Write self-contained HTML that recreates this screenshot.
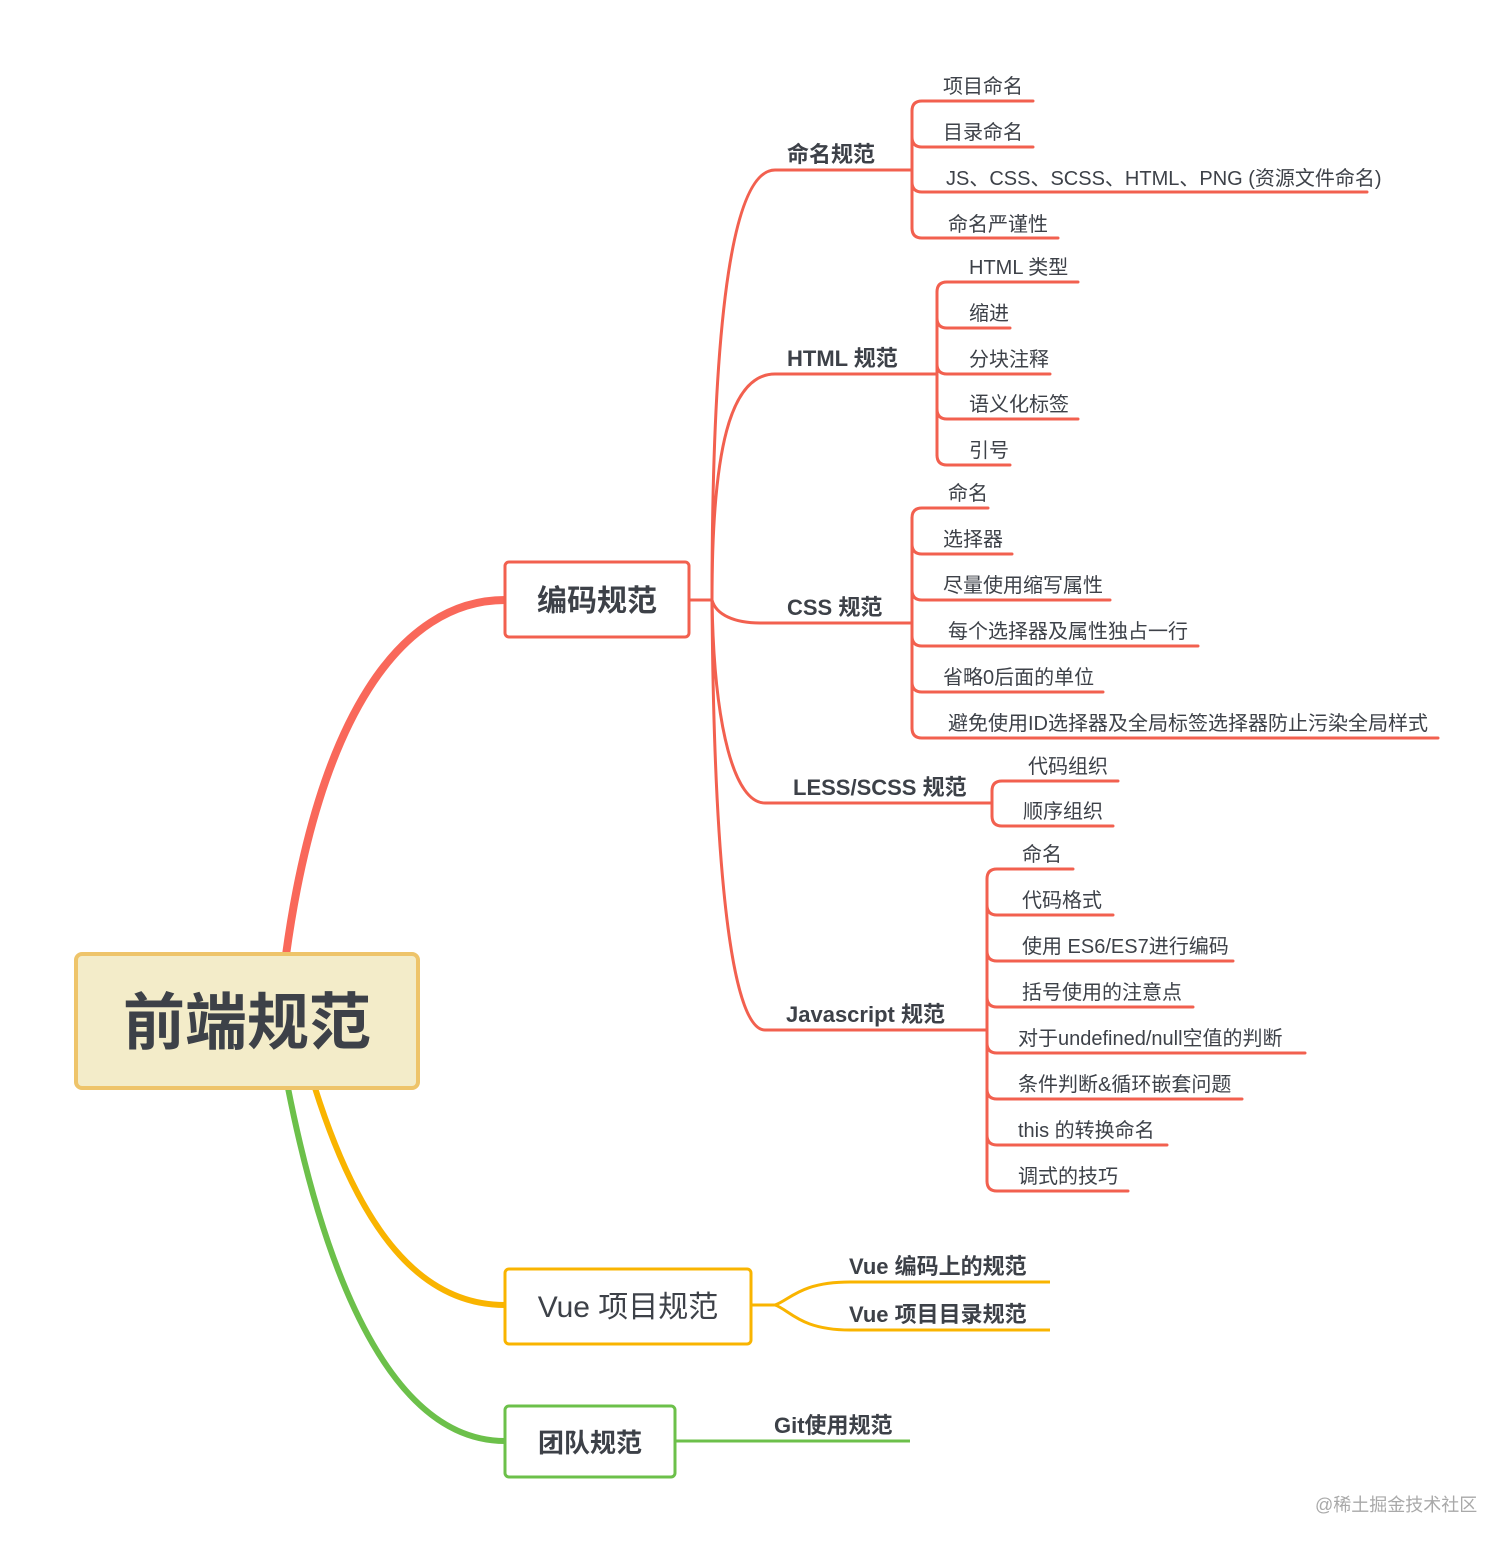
<!DOCTYPE html>
<html><head><meta charset="utf-8"><style>
html,body{margin:0;padding:0;background:#fff;}
svg{display:block}
text{font-family:"Liberation Sans","Noto Sans CJK SC",sans-serif;fill:#3d4148}
.l{font-size:20px}
.b{font-size:22px;font-weight:bold}
.r{fill:none;stroke:#f2604f;stroke-width:3;stroke-linecap:round}
</style></head><body>
<svg width="1512" height="1552" viewBox="0 0 1512 1552" xmlns="http://www.w3.org/2000/svg">
<!-- root curves -->
<path d="M286,955 C318,720 400,600 505,600" fill="none" stroke="#f9685a" stroke-width="8"/>
<path d="M315,1088 C360,1230 420,1305 505,1305" fill="none" stroke="#f9b400" stroke-width="6"/>
<path d="M288,1088 C330,1300 400,1441 505,1441" fill="none" stroke="#6cc04a" stroke-width="6"/>

<!-- root box -->
<rect x="76" y="954" width="342" height="134" rx="6" fill="#f3ecc9" stroke="#eec46a" stroke-width="4"/>
<text x="247" y="1044" text-anchor="middle" style="font-size:62px;font-weight:bold">前端规范</text>

<!-- main boxes -->
<rect x="505" y="562" width="184" height="75" rx="4" fill="#fff" stroke="#f2604f" stroke-width="3"/>
<text x="597" y="611" text-anchor="middle" style="font-size:30px;font-weight:bold">编码规范</text>
<rect x="505" y="1269" width="246" height="75" rx="4" fill="#fff" stroke="#f9b400" stroke-width="3"/>
<text x="628" y="1317" text-anchor="middle" style="font-size:30px">Vue 项目规范</text>
<rect x="505" y="1406" width="170" height="71" rx="4" fill="#fff" stroke="#6cc04a" stroke-width="3"/>
<text x="590" y="1452" text-anchor="middle" style="font-size:26px;font-weight:bold">团队规范</text>

<!-- sub branches from 编码规范 -->
<path class="r" d="M689,600 H712"/>
<path class="r" d="M712,600 C712,300 735,170 775,170 H912"/>
<path class="r" d="M712,600 C712,450 730,374 775,374 H937"/>
<path class="r" d="M712,600 C716,615 735,623 760,623 H912"/>
<path class="r" d="M712,600 C714,730 735,803 765,803 H992"/>
<path class="r" d="M712,600 C714,900 735,1030 765,1030 H987"/>

<text class="b" x="787" y="162">命名规范</text>
<text class="b" x="787" y="366">HTML 规范</text>
<text class="b" x="787" y="615">CSS 规范</text>
<text class="b" x="793" y="795">LESS/SCSS 规范</text>
<text class="b" x="786" y="1022">Javascript 规范</text>

<!-- 命名规范 leaves -->
<path class="r" d="M912,111 V228"/>
<path class="r" d="M912,111 Q912,101 922,101 H1033"/>
<path class="r" d="M912,137 Q912,147 922,147 H1033"/>
<path class="r" d="M912,182 Q912,192 922,192 H1367"/>
<path class="r" d="M912,228 Q912,238 922,238 H1058"/>
<text class="l" x="943" y="93">项目命名</text>
<text class="l" x="943" y="139">目录命名</text>
<text class="l" x="946" y="185">JS、CSS、SCSS、HTML、PNG (资源文件命名)</text>
<text class="l" x="948" y="231">命名严谨性</text>

<!-- HTML leaves -->
<path class="r" d="M937,292 V455"/>
<path class="r" d="M937,292 Q937,282 947,282 H1078"/>
<path class="r" d="M937,318 Q937,328 947,328 H1010"/>
<path class="r" d="M937,364 Q937,374 947,374 H1050"/>
<path class="r" d="M937,409 Q937,419 947,419 H1078"/>
<path class="r" d="M937,455 Q937,465 947,465 H1010"/>
<text class="l" x="969" y="274">HTML 类型</text>
<text class="l" x="969" y="320">缩进</text>
<text class="l" x="969" y="366">分块注释</text>
<text class="l" x="969" y="411">语义化标签</text>
<text class="l" x="969" y="457">引号</text>

<!-- CSS leaves -->
<path class="r" d="M912,518 V728"/>
<path class="r" d="M912,518 Q912,508 922,508 H988"/>
<path class="r" d="M912,544 Q912,554 922,554 H1012"/>
<path class="r" d="M912,590 Q912,600 922,600 H1110"/>
<path class="r" d="M912,636 Q912,646 922,646 H1198"/>
<path class="r" d="M912,682 Q912,692 922,692 H1103"/>
<path class="r" d="M912,728 Q912,738 922,738 H1438"/>
<text class="l" x="948" y="500">命名</text>
<text class="l" x="943" y="546">选择器</text>
<text class="l" x="943" y="592">尽量使用缩写属性</text>
<text class="l" x="948" y="638">每个选择器及属性独占一行</text>
<text class="l" x="943" y="684">省略0后面的单位</text>
<text class="l" x="948" y="730">避免使用ID选择器及全局标签选择器防止污染全局样式</text>

<!-- LESS leaves -->
<path class="r" d="M992,791 V816"/>
<path class="r" d="M992,791 Q992,781 1002,781 H1118"/>
<path class="r" d="M992,816 Q992,826 1002,826 H1113"/>
<text class="l" x="1028" y="773">代码组织</text>
<text class="l" x="1023" y="818">顺序组织</text>

<!-- JS leaves -->
<path class="r" d="M987,879 V1181"/>
<path class="r" d="M987,879 Q987,869 997,869 H1073"/>
<path class="r" d="M987,905 Q987,915 997,915 H1113"/>
<path class="r" d="M987,951 Q987,961 997,961 H1233"/>
<path class="r" d="M987,997 Q987,1007 997,1007 H1193"/>
<path class="r" d="M987,1043 Q987,1053 997,1053 H1305"/>
<path class="r" d="M987,1089 Q987,1099 997,1099 H1242"/>
<path class="r" d="M987,1135 Q987,1145 997,1145 H1167"/>
<path class="r" d="M987,1181 Q987,1191 997,1191 H1128"/>
<text class="l" x="1022" y="861">命名</text>
<text class="l" x="1022" y="907">代码格式</text>
<text class="l" x="1022" y="953">使用 ES6/ES7进行编码</text>
<text class="l" x="1022" y="999">括号使用的注意点</text>
<text class="l" x="1018" y="1045">对于undefined/null空值的判断</text>
<text class="l" x="1018" y="1091">条件判断&amp;循环嵌套问题</text>
<text class="l" x="1018" y="1137">this 的转换命名</text>
<text class="l" x="1018" y="1183">调式的技巧</text>

<!-- Vue -->
<path d="M751,1305 H775 C790,1300 800,1282 850,1282 H1050" fill="none" stroke="#f9b400" stroke-width="3"/>
<path d="M775,1305 C790,1310 800,1330 850,1330 H1050" fill="none" stroke="#f9b400" stroke-width="3"/>
<text class="b" x="849" y="1274">Vue 编码上的规范</text>
<text class="b" x="849" y="1322">Vue 项目目录规范</text>

<!-- Team -->
<path d="M675,1441 H910" fill="none" stroke="#6cc04a" stroke-width="3"/>
<text class="b" x="774" y="1433">Git使用规范</text>

<text x="1315" y="1511" style="font-size:18px;fill:#a9a9a9">@稀土掘金技术社区</text>
</svg>
</body></html>
